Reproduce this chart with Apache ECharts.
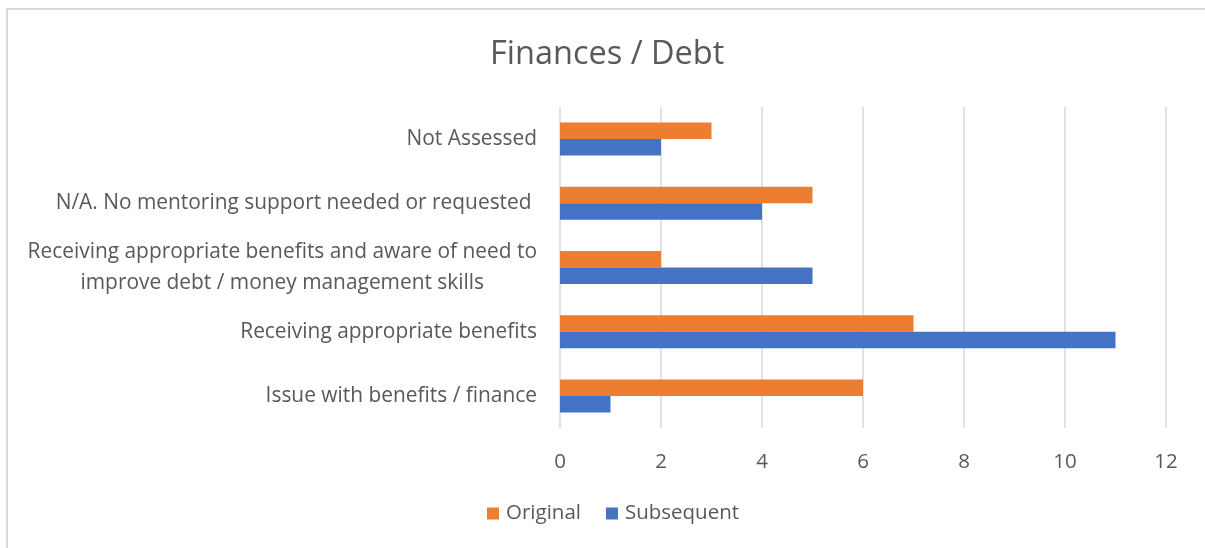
<!DOCTYPE html>
<html>
<head>
<meta charset="utf-8">
<script src="https://cdn.jsdelivr.net/npm/echarts@6/dist/echarts.min.js"></script>
<style>
  html, body { margin: 0; padding: 0; background: #ffffff; overflow: hidden; }
  #frame { position: absolute; left: 6px; top: 8px; width: 1300px; height: 700px;
           border-left: 2px solid #d9d9d9; border-top: 2px solid #d9d9d9; box-sizing: border-box; }
  #chart { position: absolute; left: 0; top: 0; width: 1205px; height: 548px; }
</style>
</head>
<body>
<div id="frame"></div>
<div id="chart"></div>
<script>
// Response categories, listed bottom to top as the category axis draws them
const categories = [
  'Issue with benefits / finance',
  'Receiving appropriate benefits',
  'Receiving appropriate benefits and aware of need to\nimprove debt / money management skills',
  'N/A. No mentoring support needed or requested ',
  'Not Assessed'
];
const originalValues = [6, 7, 2, 5, 3];
const subsequentValues = [1, 11, 5, 4, 2];
const seriesNames = ['Original', 'Subsequent'];
const xTicks = { min: 0, max: 12, interval: 2 };

const textColor = '#595959';
const fontFamily = '"Open Sans", "Liberation Sans", sans-serif';
const labelSize = 20.9;

const chart = echarts.init(document.getElementById('chart'), null, { renderer: 'canvas' });

chart.setOption({
  animation: false,
  backgroundColor: 'transparent',
  title: {
    text: 'Finances / Debt',
    left: 485,
    top: 33,
    textStyle: { color: textColor, fontFamily, fontSize: 32.5, fontWeight: 'normal' }
  },
  legend: {
    data: seriesNames,
    bottom: 19,
    left: 482,
    itemWidth: 12,
    itemHeight: 12,
    itemGap: 25,
    icon: 'rect',
    textStyle: { color: textColor, fontFamily, fontSize: 20.5, padding: [0, 0, 0, 2] }
  },
  grid: { left: 560, right: 39, top: 107, bottom: 120, containLabel: false },
  xAxis: {
    type: 'value',
    min: xTicks.min,
    max: xTicks.max,
    interval: xTicks.interval,
    axisLine: { show: false },
    axisTick: { show: false },
    splitLine: { show: true, lineStyle: { color: '#d9d9d9', width: 1.5 } },
    axisLabel: { color: textColor, fontFamily, fontSize: 20.5, margin: 24 }
  },
  yAxis: {
    type: 'category',
    data: categories,
    axisLine: { show: false },
    axisTick: { show: false },
    axisLabel: {
      color: textColor,
      fontFamily,
      fontSize: labelSize,
      margin: 23,
      lineHeight: 31,
      formatter: (v) => v.split('\n').map(s => '{c|' + s + '}').join('\n'),
      rich: { c: { align: 'center', color: textColor, fontFamily, fontSize: labelSize, lineHeight: 31 } }
    }
  },
  series: [
    {
      name: 'Original',
      type: 'bar',
      data: originalValues,
      barWidth: 16.5,
      barGap: '0%',
      itemStyle: { color: '#ED7D31' }
    },
    {
      name: 'Subsequent',
      type: 'bar',
      data: subsequentValues,
      barWidth: 16.5,
      barGap: '0%',
      itemStyle: { color: '#4472C4' }
    }
  ]
});
</script>
</body>
</html>
